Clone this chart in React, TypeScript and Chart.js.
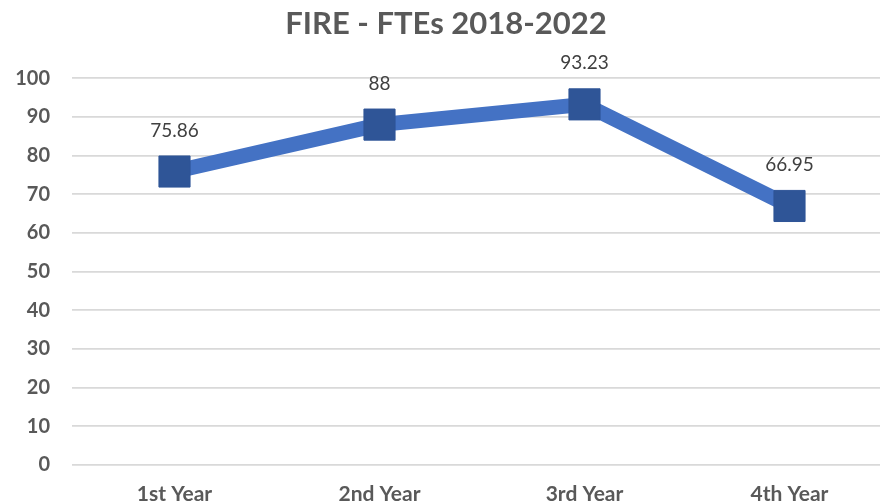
import React, { useEffect, useRef } from "react";
import { Chart, registerables } from "chart.js";

Chart.register(...registerables);

const TITLE = "FIRE - FTEs 2018-2022";
const CATEGORIES = ["1st Year", "2nd Year", "3rd Year", "4th Year"];
const FTE_VALUES = [75.86, 88, 93.23, 66.95];
const LABEL_TEXTS = ["75.86", "88", "93.23", "66.95"];
const Y_MIN = 0;
const Y_MAX = 100;
const Y_STEP = 10;

const FONT = "Lato, 'Open Sans', sans-serif";

const dataLabelPlugin = {
  id: "dataLabels",
  afterDatasetsDraw(chart: any) {
    const ctx = chart.ctx;
    const meta = chart.getDatasetMeta(0);
    ctx.save();
    ctx.font = `400 19px ${FONT}`;
    ctx.fillStyle = "#404040";
    ctx.textAlign = "center";
    ctx.textBaseline = "middle";
    meta.data.forEach((el: any, i: number) => {
      ctx.fillText(LABEL_TEXTS[i], el.x, el.y - 41);
    });
    ctx.restore();
  },
};

export default function App() {
  const ref = useRef<HTMLCanvasElement | null>(null);

  useEffect(() => {
    document.body.style.margin = "0";
    document.body.style.overflow = "hidden";
    const canvas = ref.current!;
    const chart = new Chart(canvas, {
      type: "line",
      data: {
        labels: CATEGORIES,
        datasets: [
          {
            data: FTE_VALUES,
            borderColor: "#4472C4",
            borderWidth: 15,
            pointStyle: "rect",
            pointRadius: 22,
            pointHoverRadius: 22,
            pointBackgroundColor: "#2F5597",
            pointBorderColor: "#2F5597",
            pointBorderWidth: 1,
            tension: 0,
            clip: false as any,
          },
        ],
      },
      options: {
        responsive: false,
        animation: false,
        layout: { autoPadding: false, padding: { left: 0, right: 8, top: 2, bottom: 16 } },
        plugins: {
          legend: { display: false },
          tooltip: { enabled: false },
          title: {
            display: true,
            text: TITLE,
            color: "#595959",
            font: { family: FONT, size: 31, weight: "bold" },
            padding: { top: 3, bottom: 36 },
          },
        },
        scales: {
          x: {
            offset: true,
            grid: { display: false, drawTicks: false },
            border: { display: false },
            ticks: {
              color: "#595959",
              font: { family: FONT, size: 21, weight: "bold" },
              padding: 17,
              maxRotation: 0,
            },
          },
          y: {
            min: Y_MIN,
            max: Y_MAX,
            afterFit: (scale: any) => {
              scale.width = 72;
            },
            grid: { color: "#D9D9D9", lineWidth: 1.8, drawTicks: false },
            border: { display: false },
            ticks: {
              stepSize: Y_STEP,
              color: "#595959",
              font: { family: FONT, size: 20, weight: "bold" },
              padding: 22,
            },
          },
        },
      },
      plugins: [dataLabelPlugin],
    });
    return () => chart.destroy();
  }, []);

  return (
    <div style={{ position: "relative", width: 880, height: 504, overflow: "hidden", background: "#fff" }}>
      <canvas ref={ref} width={900} height={540} style={{ position: "absolute", left: 0, top: 0, width: 900, height: 540 }} />
    </div>
  );
}
